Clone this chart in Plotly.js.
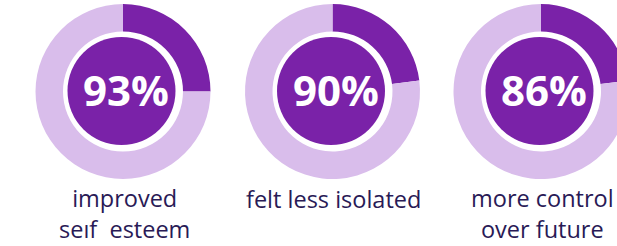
<!DOCTYPE html>
<html>
<head>
<meta charset="utf-8">
<script src="https://cdn.plot.ly/plotly-3.0.1.min.js"></script>
<style>
html, body { margin: 0; padding: 0; background: #ffffff; overflow: hidden; width: 617px; height: 246px; }
#chart { width: 640px; height: 246px; }
</style>
</head>
<body>
<div id="chart"></div>
<script>
// ---- data ----
const percentValues = [93, 90, 86];
const arcShares = [25, 23, 23];               // share of the ring drawn dark, as pictured
const captionLine1 = ['improved', 'felt less isolated', 'more control'];
const captionLine2 = ['seıf\u00a0\u00a0esteem', '', 'over future'];

// ---- layout constants ----
const W = 640, H = 246;
const centersX = [123, 332.5, 541];
const centerY = 91.5;
const outerR = 87.5, ringInnerR = 60, discR = 54;
const darkPurple = '#7a22a8';
const lightPurple = '#d9bdeb';
const textColor = '#291a56';

function domainFor(cx, cy, r) {
  return {
    x: [(cx - r) / W, (cx + r) / W],
    y: [1 - (cy + r) / H, 1 - (cy - r) / H]
  };
}

const traces = [];
const annotations = [];
percentValues.forEach((pct, i) => {
  const cx = centersX[i];
  traces.push({
    type: 'pie',
    values: [arcShares[i], 100 - arcShares[i]],
    labels: ['dark', 'light'],
    sort: false,
    direction: 'clockwise',
    rotation: 0,
    hole: ringInnerR / outerR,
    marker: { colors: [darkPurple, lightPurple], line: { width: 0 } },
    textinfo: 'none',
    hoverinfo: 'skip',
    showlegend: false,
    domain: domainFor(cx, centerY, outerR)
  });
  traces.push({
    type: 'pie',
    values: [pct],
    labels: ['disc' + i],
    sort: false,
    marker: { colors: [darkPurple], line: { width: 0 } },
    textinfo: 'none',
    hoverinfo: 'skip',
    showlegend: false,
    domain: domainFor(cx - 1.5, centerY - 0.5, discR)
  });
  annotations.push({
    xref: 'paper', yref: 'paper',
    x: (cx + 3) / W, y: 1 - 89 / H,
    xanchor: 'center', yanchor: 'middle',
    text: '<b>' + pct + '%</b>',
    showarrow: false,
    font: { family: 'Open Sans, sans-serif', size: 42, color: '#ffffff' }
  });
  const twoLines = !!captionLine2[i];
  annotations.push({
    xref: 'paper', yref: 'paper',
    x: (cx + 1) / W, y: 1 - (twoLines ? 213.5 : 199) / H,
    xanchor: 'center', yanchor: 'middle',
    align: 'center',
    text: twoLines ? captionLine1[i] + '<br>' + captionLine2[i] : captionLine1[i],
    showarrow: false,
    font: { family: 'Open Sans, sans-serif', size: 23.5, weight: 500, color: textColor }
  });
});

const layout = {
  width: W, height: H,
  margin: { l: 0, r: 0, t: 0, b: 0 },
  paper_bgcolor: '#ffffff',
  plot_bgcolor: '#ffffff',
  showlegend: false,
  annotations: annotations
};

Plotly.newPlot('chart', traces, layout, { displayModeBar: false, staticPlot: true });
</script>
</body>
</html>
